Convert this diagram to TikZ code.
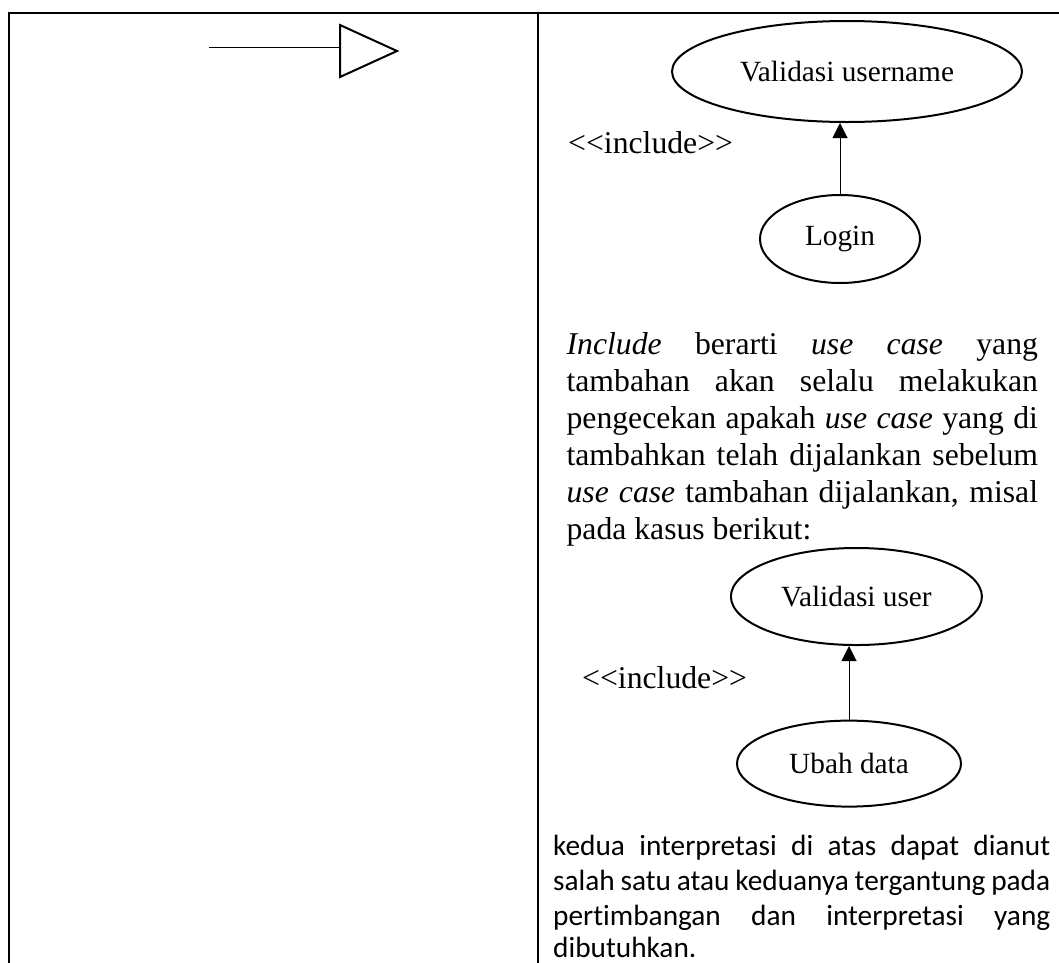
\documentclass[tikz,border=0pt]{standalone}
\usepackage{fontspec}
\setmainfont{Liberation Serif}
\newfontfamily\notefont[Ligatures=NoCommon]{Carlito}
\usetikzlibrary{shapes.geometric,arrows.meta}

% stereotype label without the << >> guillemet ligature
\newcommand{\stereotype}[1]{{<}\kern0pt{<}#1{>}\kern0pt{>}}
% a justified line of the given width, with spaces that may also shrink
\newcommand{\justline}[2]{\makebox[#1][s]{\spaceskip=.226em plus 2em minus .2em\relax #2}}

\begin{document}
\begin{tikzpicture}[x=1pt,y=-1pt,
  rule/.style={line width=2pt},
  usecase/.style={draw, ellipse, line width=2pt, inner sep=0pt,
    font=\fontsize{29.3}{33}\selectfont},
  incl/.style={-{Triangle[width=15pt,length=15pt]}, line width=1pt},
  stereo/.style={anchor=base west, inner sep=0pt,
    font=\fontsize{31.7}{36.9}\selectfont},
  bodyline/.style={anchor=base west, inner sep=0pt,
    font=\fontsize{31.7}{36.9}\selectfont},
  noteline/.style={anchor=base west, inner sep=0pt,
    font=\notefont\fontsize{29.3}{35}\selectfont},
]
\useasboundingbox (0,0) rectangle (1059,962);

% table rules
\coordinate (tl) at (8.7,12.7);
\coordinate (tr) at (1060,12.7);
\coordinate (bl) at (8.7,963);
\coordinate (mt) at (538,12.7);
\coordinate (mb) at (538,963);
\draw[rule] (tr) -- (tl) -- (bl);
\draw[rule] (mt) -- (mb);

% generalization symbol
\coordinate (gtail) at (209,47);
\coordinate (ghead) at (340,47);
\draw[line width=1pt] (gtail) -- (ghead);
\draw[line width=2pt, line join=miter] (340,25) -- (397,51) -- (340,77) -- cycle;

% first include example
\node[usecase, minimum width=350pt, minimum height=101pt] (vu) at (847,71.5) {Validasi username};
\node[usecase, minimum width=160pt, minimum height=88pt] (login) at (840,239) {Login};
\draw[incl] (login.north) -- (login.north |- vu.south);
\node[stereo] (inc1) at (568,153) {\stereotype{include}};

% explanation
\node[bodyline] (p1) at (566.4,354) {\makebox[471.4pt][s]{\textit{Include} berarti \textit{use case} yang}};
\node[bodyline] (p2) at (566.4,391) {\makebox[471.4pt][s]{tambahan akan selalu melakukan}};
\node[bodyline] (p3) at (566.4,428) {\makebox[471.4pt][s]{pengecekan apakah \textit{use case} yang di}};
\node[bodyline] (p4) at (566.4,465) {\makebox[471.4pt][s]{tambahkan telah dijalankan sebelum}};
\node[bodyline] (p5) at (566.4,502) {\makebox[471.4pt][s]{\textit{use case} tambahan dijalankan, misal}};
\node[bodyline] (p6) at (566.4,539) {pada kasus berikut:};

% second include example
\node[usecase, minimum width=251pt, minimum height=97pt] (vuser) at (856.4,596.5) {Validasi user};
\node[usecase, minimum width=224pt, minimum height=86pt] (ubah) at (849,763.6) {Ubah data};
\draw[incl] (ubah.north) -- (ubah.north |- vuser.south);
\node[stereo] (inc2) at (582,688) {\stereotype{include}};

% closing note
\node[noteline] (n1) at (553,855) {\justline{497pt}{kedua interpretasi di atas dapat dianut}};
\node[noteline] (n2) at (553,890.5) {\justline{497pt}{salah satu atau keduanya tergantung pada}};
\node[noteline] (n3) at (553,925.5) {\justline{497pt}{pertimbangan dan interpretasi yang}};
\node[noteline] (n4) at (553,957) {dibutuhkan.};
\end{tikzpicture}
\end{document}
